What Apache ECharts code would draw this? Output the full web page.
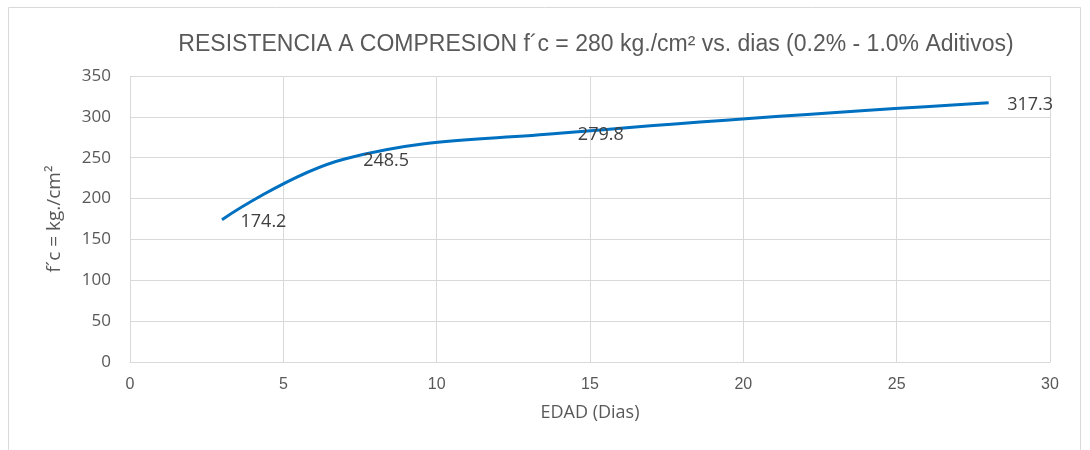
<!DOCTYPE html>
<html>
<head>
<meta charset="utf-8">
<script src="https://cdn.jsdelivr.net/npm/echarts@6/dist/echarts.min.js"></script>
<style>
html,body{margin:0;padding:0;background:#fff;}
#c{width:1090px;height:450px;}
</style>
</head>
<body>
<div id="c"></div>
<script>
const days = [3, 7, 14, 28];
const strength = [174.2, 248.5, 279.8, 317.3];
const xTicks = [0, 5, 10, 15, 20, 25, 30];
const yTicks = [0, 50, 100, 150, 200, 250, 300, 350];

const chart = echarts.init(document.getElementById('c'));
const sans = '"Liberation Sans", sans-serif';
const open = '"Open Sans", sans-serif';
chart.setOption({
  animation: false,
  backgroundColor: '#fff',
  title: {
    text: 'RESISTENCIA A COMPRESION f´c = 280 kg./cm² vs. dias (0.2% - 1.0% Aditivos)',
    left: 591, top: 28, textAlign: 'center',
    textStyle: { fontFamily: sans, fontSize: 23, fontWeight: 'normal', color: '#595959' }
  },
  graphic: [{
    type: 'rect', shape: { x: 8.5, y: 7.5, width: 1072, height: 460 },
    style: { fill: 'none', stroke: '#d9d9d9', lineWidth: 1 }, silent: true
  }],
  grid: { left: 130, right: 40, top: 76, bottom: 88 },
  xAxis: {
    type: 'value', min: xTicks[0], max: xTicks[xTicks.length - 1], interval: 5,
    name: 'EDAD (Dias)', nameLocation: 'middle', nameGap: 42,
    nameTextStyle: { fontFamily: open, fontSize: 18, color: '#595959' },
    axisLine: { show: true, lineStyle: { color: '#d9d9d9' } },
    axisTick: { show: false },
    axisLabel: { fontFamily: sans, fontSize: 16, color: '#595959', margin: 15 },
    splitLine: { show: true, lineStyle: { color: '#d9d9d9' } }
  },
  yAxis: {
    type: 'value', min: yTicks[0], max: yTicks[yTicks.length - 1], interval: 50,
    name: 'f´c = kg./cm²', nameLocation: 'middle', nameGap: 66,
    nameTextStyle: { fontFamily: open, fontSize: 19, color: '#595959' },
    axisLine: { show: false },
    axisTick: { show: false },
    axisLabel: { fontFamily: open, fontSize: 17, color: '#595959', margin: 19 },
    splitLine: { show: true, lineStyle: { color: '#d9d9d9' } }
  },
  series: [{
    type: 'line',
    data: days.map((d, i) => [d, strength[i]]),
    smooth: 0.4,
    showSymbol: true,
    symbol: 'circle',
    symbolSize: 1,
    itemStyle: { color: 'rgba(0,0,0,0)', borderWidth: 0 },
    lineStyle: { color: '#0070C0', width: 3 },
    label: {
      show: true, position: 'right', distance: 18, offset: [0, 2],
      fontFamily: open, fontSize: 18, color: '#404040',
      formatter: p => p.value[1].toFixed(1)
    }
  }]
});
</script>
</body>
</html>
